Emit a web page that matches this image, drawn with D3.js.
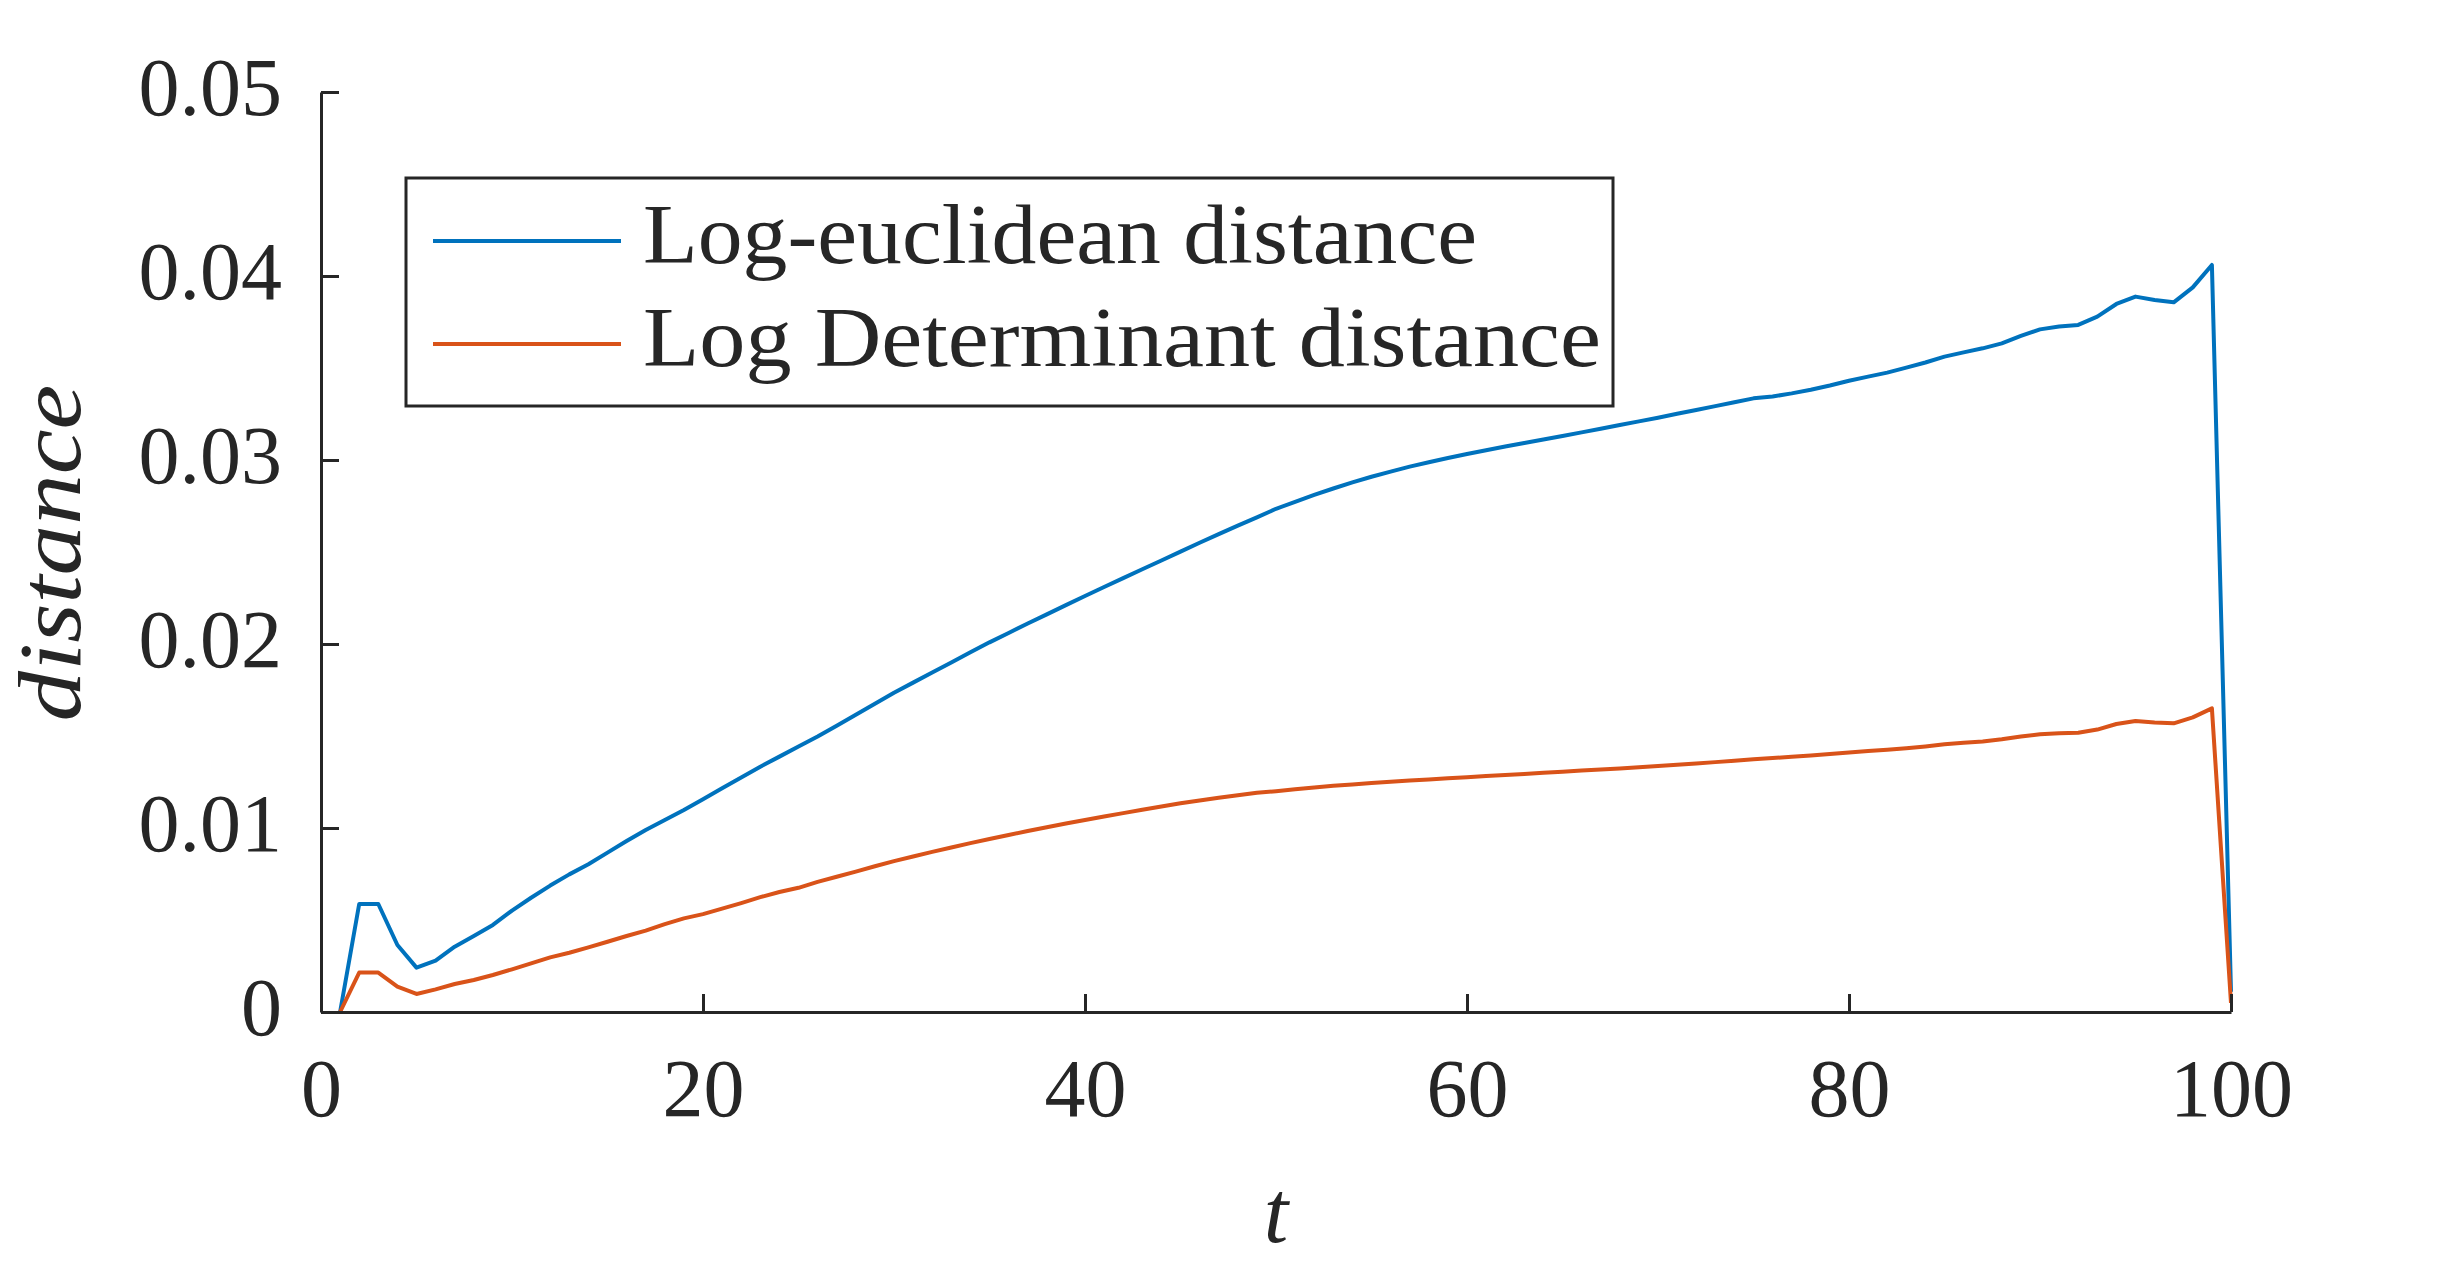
<!DOCTYPE html>
<html>
<head>
<meta charset="utf-8">
<script src="https://cdn.jsdelivr.net/npm/d3@7"></script>
<style>
    body { margin: 0; background: #ffffff; }
</style>
</head>
<body>
<svg id="canvas"></svg>
<script>
let steps = d3.range(1, 101)

let logEuclidean = [
    0, 0.00587, 0.00587, 0.00364, 0.00241, 0.00279, 0.00355, 0.00413, 0.00473, 0.00551,
    0.00621, 0.00687, 0.00748, 0.00803, 0.00866, 0.00929, 0.00989, 0.01043, 0.01098, 0.01156,
    0.01216, 0.01274, 0.01333, 0.01388, 0.01443, 0.01497, 0.01556, 0.01616, 0.01675, 0.01735,
    0.01790, 0.01845, 0.01900, 0.01955, 0.02009, 0.02060, 0.02111, 0.02161, 0.02211, 0.02261,
    0.02310, 0.02358, 0.02406, 0.02454, 0.02502, 0.02550, 0.02597, 0.02643, 0.02688, 0.02735,
    0.02773, 0.02810, 0.02845, 0.02878, 0.02909, 0.02937, 0.02964, 0.02988, 0.03011, 0.03033,
    0.03053, 0.03073, 0.03092, 0.03111, 0.03130, 0.03150, 0.03170, 0.03190, 0.03210, 0.03230,
    0.03251, 0.03272, 0.03293, 0.03314, 0.03335, 0.03345, 0.03362, 0.03382, 0.03405, 0.03431,
    0.03453, 0.03475, 0.03502, 0.03530, 0.03562, 0.03585, 0.03607, 0.03634, 0.03674, 0.03710,
    0.03725, 0.03734, 0.03779, 0.03848, 0.03888, 0.03870, 0.03857, 0.03938, 0.04060, 0.00110
]

let logDeterminant = [
    0, 0.00214, 0.00214, 0.00138, 0.00098, 0.00123, 0.00152, 0.00174, 0.00201, 0.00232,
    0.00264, 0.00297, 0.00322, 0.00351, 0.00382, 0.00413, 0.00442, 0.00478, 0.00509, 0.00532,
    0.00562, 0.00592, 0.00624, 0.00652, 0.00675, 0.00707, 0.00735, 0.00763, 0.00792, 0.00820,
    0.00845, 0.00870, 0.00894, 0.00918, 0.00940, 0.00962, 0.00984, 0.01004, 0.01024, 0.01043,
    0.01062, 0.01081, 0.01099, 0.01117, 0.01134, 0.01149, 0.01164, 0.01178, 0.01191, 0.01200,
    0.01210, 0.01220, 0.01229, 0.01237, 0.01244, 0.01251, 0.01258, 0.01264, 0.01270, 0.01276,
    0.01282, 0.01288, 0.01294, 0.01300, 0.01306, 0.01312, 0.01318, 0.01324, 0.01330, 0.01337,
    0.01344, 0.01351, 0.01358, 0.01365, 0.01373, 0.01380, 0.01387, 0.01394, 0.01402, 0.01410,
    0.01418, 0.01425, 0.01433, 0.01443, 0.01455, 0.01463, 0.01470, 0.01482, 0.01497, 0.01510,
    0.01515, 0.01518, 0.01535, 0.01565, 0.01582, 0.01574, 0.01569, 0.01601, 0.01650, 0.00050
]

let seriesNames = ["Log-euclidean distance", "Log Determinant distance"]
let seriesColors = ["#0072BD", "#D95319"]

let xTicks = [0, 20, 40, 60, 80, 100]
let yTicks = [0, 0.01, 0.02, 0.03, 0.04, 0.05]

let width = 2463
let height = 1263
let axisColor = "#262626"
let serif = "'Liberation Serif', 'DejaVu Serif', 'Times New Roman', Times, serif"

let canvas = d3.select("#canvas")
    .attr("width", width)
    .attr("height", height)

canvas.append("rect")
    .attr("width", width)
    .attr("height", height)
    .attr("fill", "white")

let xScale = d3.scaleLinear().domain([0, 100]).range([321, 2231])
let yScale = d3.scaleLinear().domain([0, 0.05]).range([1012, 92])

let series = [logEuclidean, logDeterminant].map((values, i) => {
    return {
        name: seriesNames[i],
        color: seriesColors[i],
        points: steps.map((t, j) => [t, values[j]])
    }
})

// data lines
let line = d3.line()
    .x((p) => xScale(p[0]))
    .y((p) => yScale(p[1]))

canvas.selectAll(".series")
    .data(series)
    .enter()
    .append("path")
    .attr("class", "series")
    .attr("d", (s) => line(s.points))
    .attr("fill", "none")
    .attr("stroke", (s) => s.color)
    .attr("stroke-width", 4)
    .attr("stroke-linejoin", "round")

// axes (ticks point inward, no box)
let yAxis = d3.axisLeft(yScale)
    .tickValues(yTicks)
    .tickSizeInner(-18)
    .tickSizeOuter(0)
    .tickPadding(39)
    .tickFormat((v) => v === 0 ? "0" : d3.format(".2f")(v))

let xAxis = d3.axisBottom(xScale)
    .tickValues(xTicks)
    .tickSizeInner(-18)
    .tickSizeOuter(0)
    .tickFormat(d3.format("d"))

let yAxisGroup = canvas.append("g")
    .attr("transform", "translate(" + xScale(0) + ", 0)")
    .call(yAxis)

let xAxisGroup = canvas.append("g")
    .attr("transform", "translate(0, " + yScale(0) + ")")
    .call(xAxis)

for (let g of [xAxisGroup, yAxisGroup]) {
    g.attr("font-family", serif).attr("font-size", 82)
    g.select(".domain").attr("stroke", axisColor).attr("stroke-width", 3)
    g.selectAll(".tick line").attr("stroke", axisColor).attr("stroke-width", 3)
    g.selectAll(".tick text")
        .attr("fill", axisColor)
        .style("font-family", serif)
        .style("font-size", 82 + "px")
}

yAxisGroup.selectAll(".tick text")
    .attr("dy", null)
    .attr("y", 22)

xAxisGroup.selectAll(".tick text")
    .attr("dy", null)
    .attr("y", 104)

// axis labels
canvas.append("text")
    .text("t")
    .attr("x", xScale(50))
    .attr("y", 1242)
    .attr("text-anchor", "middle")
    .attr("fill", axisColor)
    .style("font-family", serif)
    .style("font-style", "italic")
    .style("font-size", 88 + "px")

canvas.append("text")
    .text("distance")
    .attr("transform", "translate(80, 553) rotate(-90)")
    .attr("text-anchor", "middle")
    .attr("textLength", 337)
    .attr("lengthAdjust", "spacingAndGlyphs")
    .attr("fill", axisColor)
    .style("font-family", serif)
    .style("font-style", "italic")
    .style("font-size", 88 + "px")

// legend
let legend = canvas.append("g")

legend.append("rect")
    .attr("x", 406)
    .attr("y", 178)
    .attr("width", 1207)
    .attr("height", 228)
    .attr("fill", "white")
    .attr("stroke", axisColor)
    .attr("stroke-width", 3)

let legendWidths = [834, 958]

let legendItem = legend.selectAll(".legend-item")
    .data(series)
    .enter()
    .append("g")
    .attr("class", "legend-item")
    .attr("transform", (s, i) => "translate(0, " + (241 + i * 103) + ")")

legendItem.append("line")
    .attr("x1", 433)
    .attr("x2", 621)
    .attr("y1", 0)
    .attr("y2", 0)
    .attr("stroke", (s) => s.color)
    .attr("stroke-width", 4)

legendItem.append("text")
    .text((s) => s.name)
    .attr("x", 643)
    .attr("y", 22)
    .attr("textLength", (s, i) => legendWidths[i])
    .attr("lengthAdjust", "spacingAndGlyphs")
    .attr("fill", axisColor)
    .style("font-family", serif)
    .style("font-size", 84 + "px")
</script>
</body>
</html>
